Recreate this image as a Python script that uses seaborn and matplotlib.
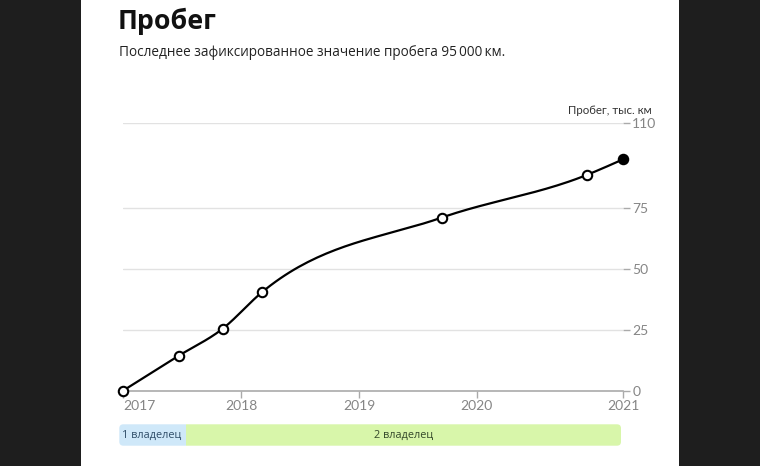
import numpy as np
import pandas as pd
import matplotlib
matplotlib.use("Agg")
import matplotlib.pyplot as plt
import matplotlib.dates as mdates
from matplotlib.patches import FancyBboxPatch, Rectangle
import seaborn as sns

# ---------------- data ----------------
dates = ["2017-01-01", "2017-06-22", "2017-11-05", "2018-03-06",
         "2019-09-14", "2020-12-08", "2021-03-30"]
mileage = [0, 14.3, 25.4, 40.3, 71.0, 88.6, 95.0]   # thousand km
y_ticks = [0, 25, 50, 75, 110]
year_ticks = ["2018-01-01", "2019-01-01", "2020-01-01"]
owners = ["1 владелец", "2 владелец"]
owner_change = "2017-07-26"

title = "Пробег"
subtitle = "Последнее зафиксированное значение пробега 95\u2009000\u2009км."
y_label = "Пробег, тыс. км"

# ---------------- setup ----------------
sns.set_theme(style="white")
plt.rcParams["font.family"] = ["Lato", "Open Sans", "DejaVu Sans"]

W, H = 760, 466
fig = plt.figure(figsize=(W / 100, H / 100), dpi=100)
fig.patch.set_facecolor("#1e1e1e")
bg = fig.add_axes([81 / W, 0, (679 - 81) / W, 1], zorder=-10)
bg.set_facecolor("white")
bg.axis("off")
bg.add_patch(Rectangle((0, 0), 1, 1, transform=bg.transAxes, facecolor="white",
                       edgecolor="none"))

def px_axes(x0, x1, ytop, ybot):
    return fig.add_axes([x0 / W, (H - ybot) / H, (x1 - x0) / W, (ybot - ytop) / H])

df = pd.DataFrame({"date": pd.to_datetime(dates), "km": mileage})
xnum = mdates.date2num(df["date"])
y = np.asarray(mileage, dtype=float)

# monotone cubic (d3 curveMonotoneX-like) for drawing the line
def monotone_curve(x, y, n=40):
    h = np.diff(x)
    s = np.diff(y) / h
    t = np.zeros_like(y)
    for i in range(1, len(y) - 1):
        p = (s[i - 1] * h[i] + s[i] * h[i - 1]) / (h[i - 1] + h[i])
        t[i] = (np.sign(s[i - 1]) + np.sign(s[i])) * min(abs(s[i - 1]), abs(s[i]), 0.5 * abs(p))
    t[0] = (3 * s[0] - t[1]) / 2
    t[-1] = (3 * s[-1] - t[-2]) / 2
    xs, ys = [], []
    for i in range(len(h)):
        u = np.linspace(0, 1, n)
        h00 = 2 * u**3 - 3 * u**2 + 1
        h10 = u**3 - 2 * u**2 + u
        h01 = -2 * u**3 + 3 * u**2
        h11 = u**3 - u**2
        xs.append(x[i] + u * h[i])
        ys.append(h00 * y[i] + h10 * h[i] * t[i] + h01 * y[i + 1] + h11 * h[i] * t[i + 1])
    return np.concatenate(xs), np.concatenate(ys)

cx, cy = monotone_curve(xnum, y)

# ---------------- main axes ----------------
ax = px_axes(123.3, 623.3, 122.7, 390.5)
ax.set_facecolor("none")
ax.set_xlim(xnum[0], xnum[-1])
ax.set_ylim(0, 110)

for yt in y_ticks[1:]:
    ax.axhline(yt, color="#e2e2e2", lw=1.0, zorder=1)

sns.lineplot(x=cx, y=cy, ax=ax, color="black", lw=1.6, zorder=3, clip_on=False)
open_pts = df.iloc[:-1]
sns.scatterplot(x=mdates.date2num(open_pts["date"]), y=open_pts["km"], ax=ax, s=46,
                facecolor="white", edgecolor="black", linewidth=1.5, zorder=4, clip_on=False)
sns.scatterplot(x=[xnum[-1]], y=[y[-1]], ax=ax, s=46, color="black",
                edgecolor="black", linewidth=1.5, zorder=4, clip_on=False)

for sp in ["top", "left", "right"]:
    ax.spines[sp].set_visible(False)
ax.spines["bottom"].set_color("#aaaaaa")
ax.spines["bottom"].set_linewidth(1.2)

ax.yaxis.tick_right()
ax.set_yticks(y_ticks)
ax.set_yticklabels([str(v) for v in y_ticks])
ax.tick_params(axis="y", length=5, width=1, color="#aaaaaa", pad=1.5,
               labelsize=10, labelcolor="#858585", right=True, left=False)

xt = [xnum[0]] + list(mdates.date2num(pd.to_datetime(year_ticks))) + [xnum[-1]]
ax.set_xticks(xt)
xl = ax.set_xticklabels([str(pd.Timestamp(d).year) for d in
                         [dates[0]] + year_ticks + [dates[-1]]])
xl[0].set_horizontalalignment("left")
ax.tick_params(axis="x", length=5, width=1, color="#aaaaaa", pad=2,
               labelsize=10, labelcolor="#858585", bottom=True)
ax.set_xlabel("")
ax.set_ylabel("")

fig.text(651.5 / W, (H - 111) / H, y_label, ha="right", va="center", fontsize=8.3,
         color="#333333", family=["Lato", "Open Sans", "DejaVu Sans"])

# ---------------- titles ----------------
fig.text(118 / W, (H - 21) / H, title, ha="left", va="center", fontsize=19.3,
         fontweight="bold", color="#111111", family=["Open Sans", "DejaVu Sans"])
fig.text(119 / W, (H - 52) / H, subtitle, ha="left", va="center", fontsize=9.8,
         color="#222222", family=["Open Sans", "DejaVu Sans"])

# ---------------- owner bar ----------------
oax = px_axes(119.3, 621, 424.3, 445.7)
oax.set_xlim(xnum[0], xnum[-1])
oax.set_ylim(0, 1)
oax.axis("off")
clip = FancyBboxPatch((0, 0), 1, 1, boxstyle="round,pad=0,rounding_size=4",
                      mutation_aspect=1, transform=oax.transAxes,
                      facecolor="none", edgecolor="none")
# rounding in pixels: build clip path in display coords
bw, bh = 621 - 119.3, 445.7 - 424.3
clip = FancyBboxPatch((0, 0), bw, bh, boxstyle="round,pad=0,rounding_size=4",
                      facecolor="none", edgecolor="none",
                      transform=matplotlib.transforms.Affine2D().translate(119.3, H - 445.7)
                      + matplotlib.transforms.Affine2D().scale(fig.dpi / 100))
oax.add_patch(clip)
xc = mdates.date2num(pd.Timestamp(owner_change))
seg = [(xnum[0], xc, "#cfe8f9", "#2f4d68"), (xc, xnum[-1], "#d8f6aa", "#34482a")]
for (a, b, fc, tc), name in zip(seg, owners):
    r = Rectangle((a, 0), b - a, 1, facecolor=fc, edgecolor="none")
    oax.add_patch(r)
    r.set_clip_path(clip)
oax.text(xnum[0] + 0.006 * (xnum[-1] - xnum[0]), 0.5, owners[0], ha="left", va="center",
         fontsize=7.8, color=seg[0][3], family=["Open Sans", "DejaVu Sans"])
oax.text((xc + xnum[-1]) / 2, 0.5, owners[1], ha="center", va="center",
         fontsize=7.8, color=seg[1][3], family=["Open Sans", "DejaVu Sans"])

fig.savefig("out.png", dpi=100, facecolor=fig.get_facecolor())
